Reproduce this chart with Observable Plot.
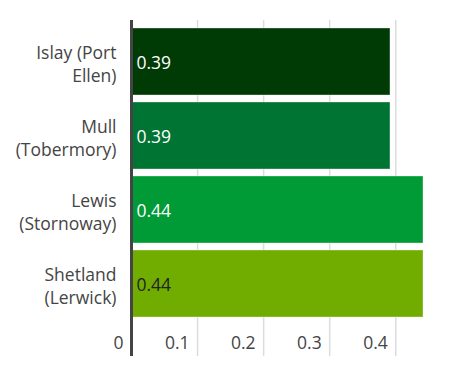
<!DOCTYPE html>
<html>
<head>
<meta charset="utf-8">
<script src="https://cdn.jsdelivr.net/npm/d3@7"></script>
<script src="https://cdn.jsdelivr.net/npm/@observablehq/plot@0.6"></script>
<style>
  body { margin: 0; background: #fff; }
  #chart svg { display: block; }
</style>
</head>
<body>
<div id="chart"></div>
<script>
const places = ["Islay (Port\nEllen)", "Mull\n(Tobermory)", "Lewis\n(Stornoway)", "Shetland\n(Lerwick)"];
const values = [0.392, 0.392, 0.442, 0.442];
const labels = ["0.39", "0.39", "0.44", "0.44"];
const colors = ["#003b05", "#007433", "#009a36", "#70ad00"];
const labelColors = ["#ffffff", "#ffffff", "#ffffff", "#222222"];
const xTicks = [0, 0.1, 0.2, 0.3, 0.4];
const xTickLabels = ["0", "0.1", "0.2", "0.3", "0.4"];

const data = places.map((p, i) => ({place: p, value: values[i], label: labels[i], color: colors[i], lc: labelColors[i]}));
const ticks = xTicks.map((t, i) => ({t, label: xTickLabels[i]}));

const font = "'Open Sans', sans-serif";

const chart = Plot.plot({
  width: 451,
  height: 372,
  marginTop: 20,
  marginBottom: 16,
  marginLeft: 131,
  marginRight: 28,
  style: {fontFamily: font, fontSize: "17px", background: "#fff"},
  x: {domain: [0, 0.442], axis: null},
  y: {domain: places, range: [27.3, 317], paddingInner: 0.1, paddingOuter: 0, axis: null},
  marks: [
    Plot.ruleX(ticks.filter(d => d.t > 0), {x: "t", stroke: "#dcdcdc", strokeWidth: 1.5}),
    Plot.barX(data, {y: "place", x: "value", fill: d => d.color, stroke: "rgba(255,255,255,0.35)", strokeWidth: 1}),
    Plot.text(data, {y: "place", x: 0, text: "label", textAnchor: "start", dx: 5, dy: 1, fill: d => d.lc, fontSize: 17.5}),
    Plot.text(data, {y: "place", text: "place", frameAnchor: "left", textAnchor: "end", dx: -15, dy: 1, lineHeight: 1.33, fill: "#444", fontSize: 17.5}),
    Plot.text(ticks, {x: "t", text: "label", frameAnchor: "bottom", textAnchor: "end", dx: -8, dy: -8, fill: "#444", fontSize: 17.5}),
    Plot.ruleX([0], {stroke: "#444", strokeWidth: 3})
  ]
});
document.getElementById("chart").append(chart);
</script>
</body>
</html>
